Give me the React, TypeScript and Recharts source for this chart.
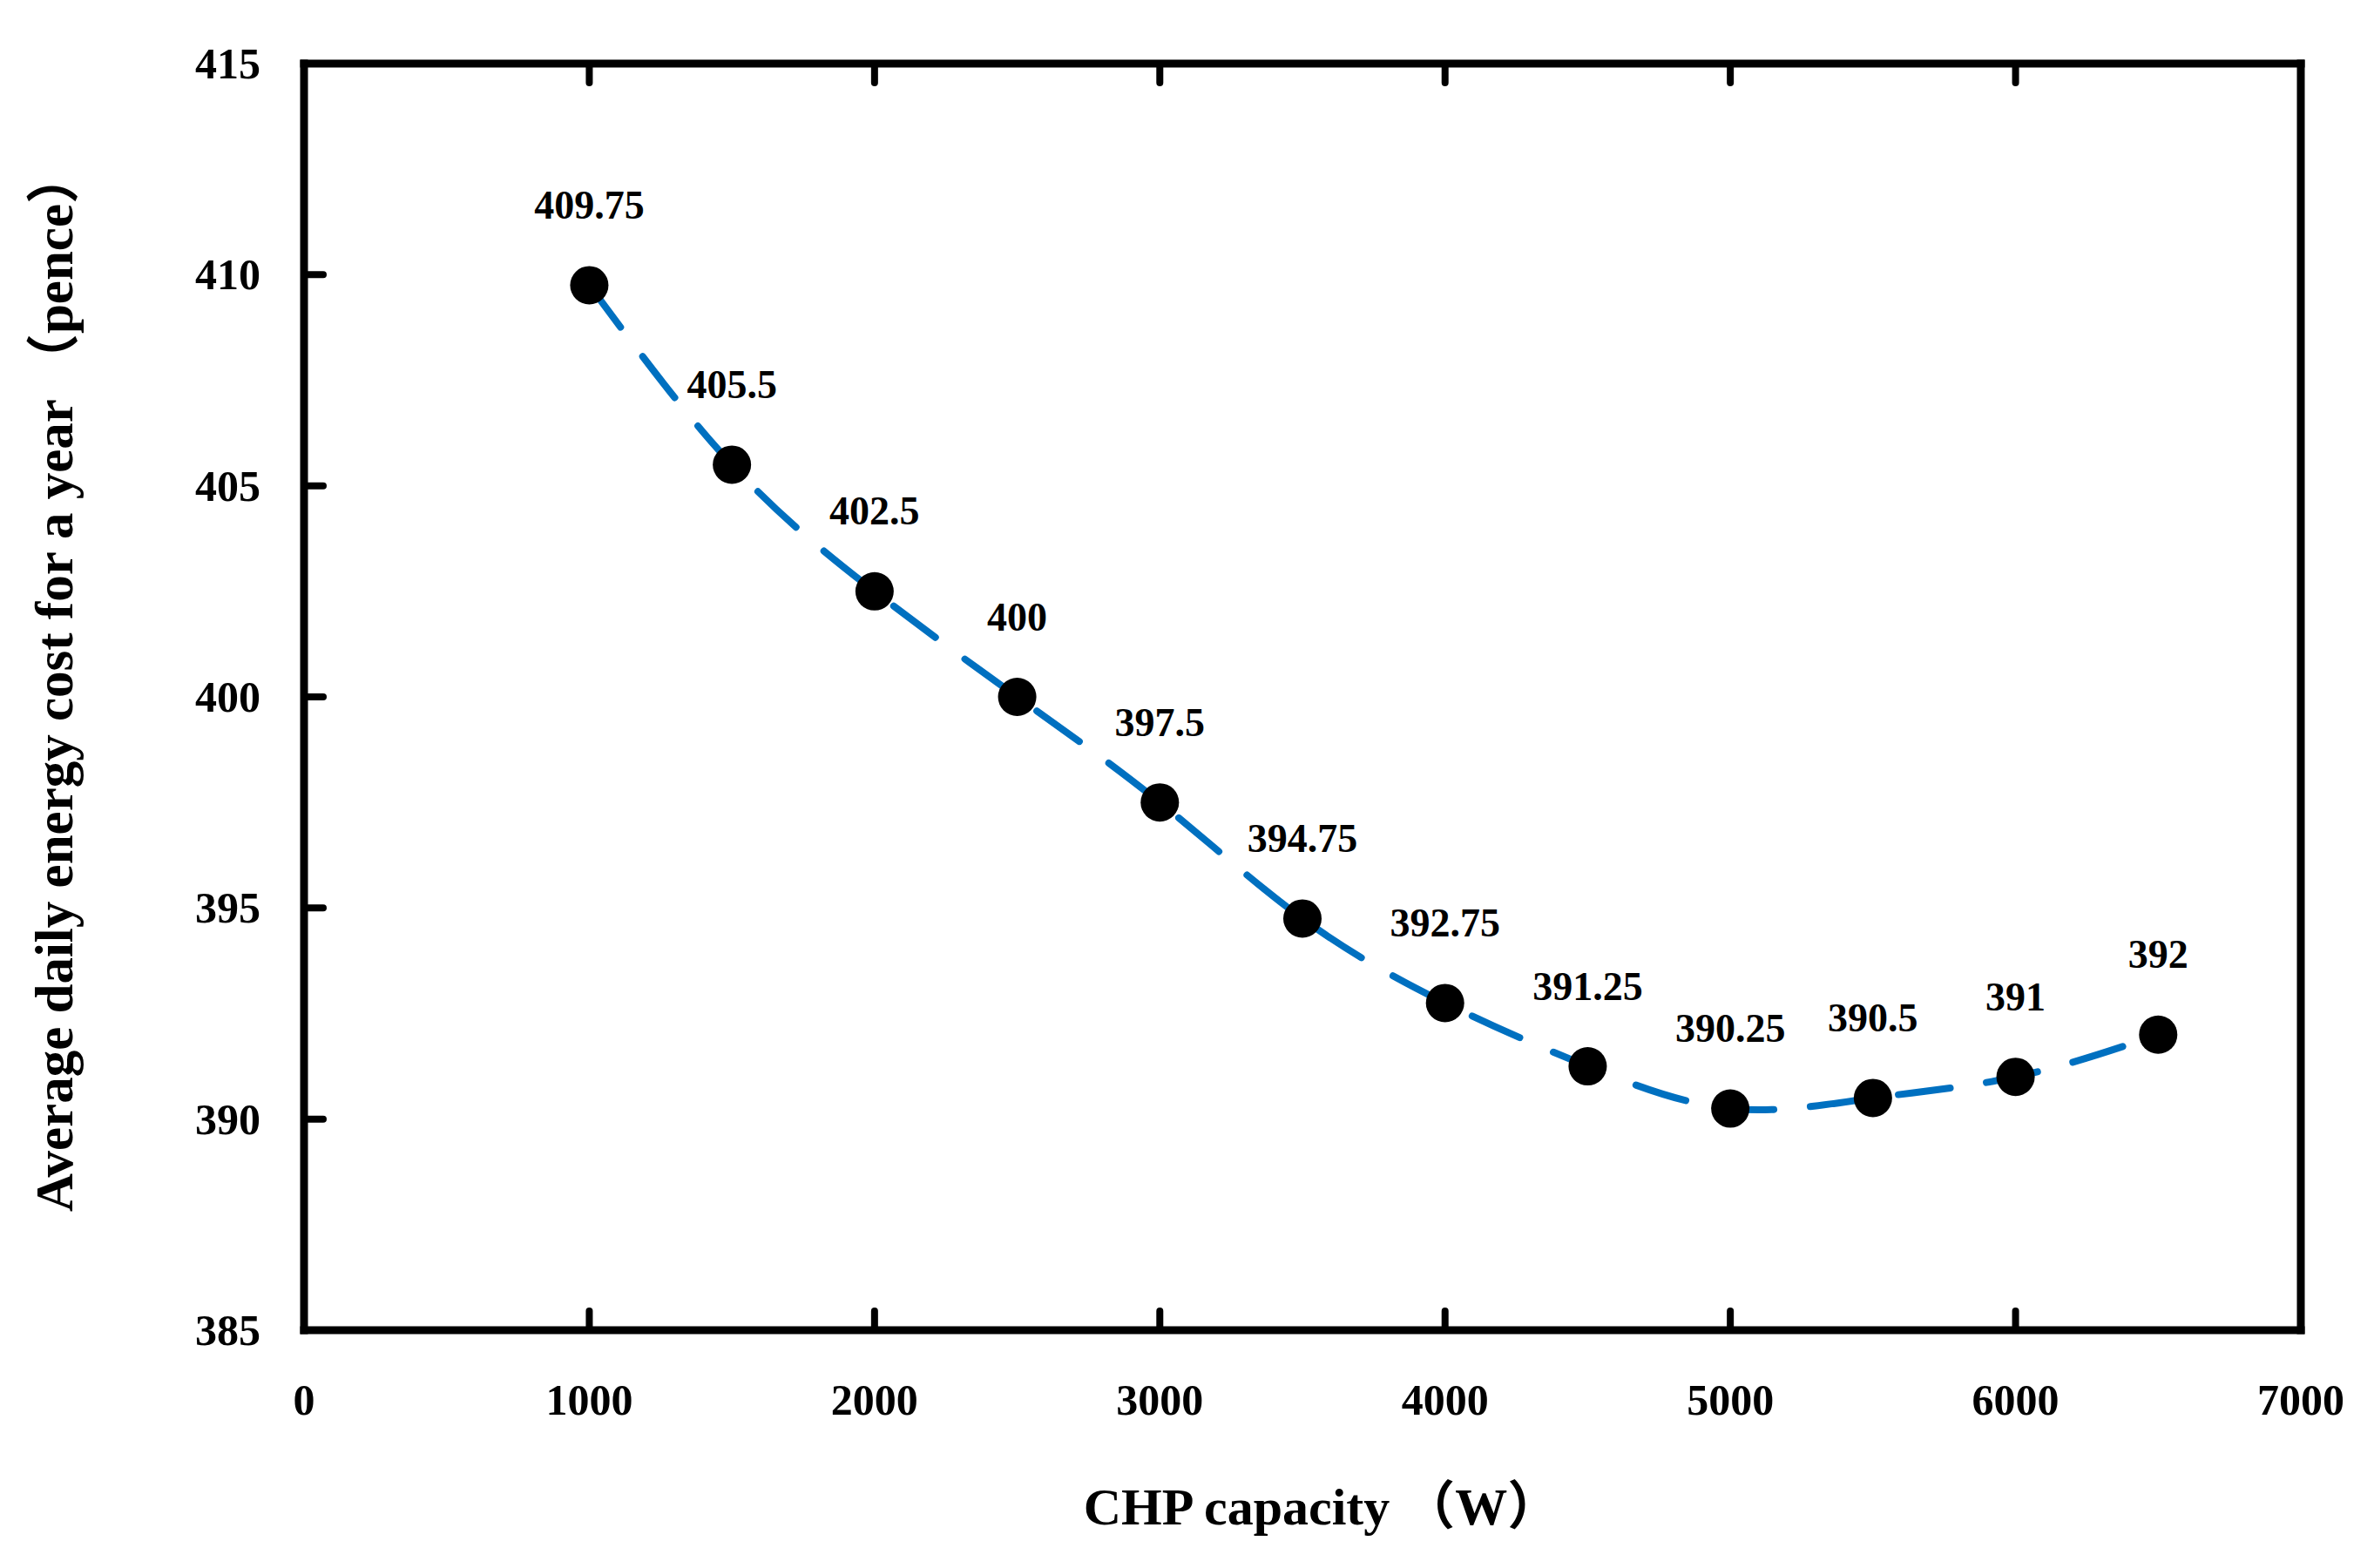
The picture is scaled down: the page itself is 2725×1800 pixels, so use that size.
import { LineChart, Line, XAxis, YAxis, LabelList, Label } from 'recharts'

const capacities = [1000, 1500, 2000, 2500, 3000, 3500, 4000, 4500, 5000, 5500, 6000, 6500]
const dailyCost = [409.75, 405.5, 402.5, 400, 397.5, 394.75, 392.75, 391.25, 390.25, 390.5, 391, 392]
const xTicks = [0, 1000, 2000, 3000, 4000, 5000, 6000, 7000]
const yTicks = [385, 390, 395, 400, 405, 410, 415]

const data = capacities.map((c, i) => ({ capacity: c, cost: dailyCost[i] }))

const FONT = "'Times New Roman', 'Liberation Serif', 'Noto Sans CJK SC', serif"
const TICK_LEN = 22
const AXIS_W = 9

const BottomTick = ({ x, y, payload }: any) => (
  <g>
    <line x1={x} y1={y} x2={x} y2={y - TICK_LEN} stroke='#000' strokeWidth={8} strokeLinecap='round' />
    <text x={x} y={y + 80} textAnchor='middle' dominantBaseline='central'
      fontFamily={FONT} fontWeight='bold' fontSize={50} fill='#000'>
      {payload.value}
    </text>
  </g>
)

const TopTick = ({ x, y }: any) => (
  <line x1={x} y1={y} x2={x} y2={y + TICK_LEN} stroke='#000' strokeWidth={8} strokeLinecap='round' />
)

const LeftTick = ({ x, y, payload }: any) => (
  <g>
    <line x1={x} y1={y} x2={x + TICK_LEN} y2={y} stroke='#000' strokeWidth={8} strokeLinecap='round' />
    <text x={x - 50} y={y} textAnchor='end' dominantBaseline='central'
      fontFamily={FONT} fontWeight='bold' fontSize={50} fill='#000'>
      {payload.value}
    </text>
  </g>
)

const RightTick = ({ x, y }: any) => (
  <line x1={x} y1={y} x2={x - TICK_LEN} y2={y} stroke='#000' strokeWidth={8} strokeLinecap='round' />
)

const ValueLabel = ({ x, y, value }: any) => (
  <text x={x} y={y - 92} textAnchor='middle' dominantBaseline='central'
    fontFamily={FONT} fontWeight='bold' fontSize={46} fill='#000'>
    {value}
  </text>
)

const XTitle = ({ viewBox }: any) => (
  <text x={viewBox.x + viewBox.width / 2 + 22} y={viewBox.y + 203} textAnchor='middle' dominantBaseline='central'
    fontFamily={FONT} fontWeight='bold' fontSize={60} fill='#000'>
    CHP capacity （W）
  </text>
)

const YTitle = ({ viewBox }: any) => {
  const cy = viewBox.y + viewBox.height / 2 - 18
  return (
    <text x={62} y={cy} transform={`rotate(-90, 62, ${cy})`} textAnchor='middle' dominantBaseline='central'
      fontFamily={FONT} fontWeight='bold' fontSize={61} fill='#000'>
      Average daily energy cost for a year （pence）
    </text>
  )
}

const axisLine = { stroke: '#000', strokeWidth: AXIS_W, strokeLinecap: 'square' as const }

export default function App() {
  return (
    <div style={{ position: 'absolute', left: 0, top: 0, width: 2725, height: 1800, background: '#fff' }}>
      <LineChart width={2725} height={1800} data={data}
        margin={{ top: 72, right: 83, bottom: 272, left: 348 }}>
        <XAxis xAxisId='bottom' dataKey='capacity' type='number' domain={[0, 7000]} ticks={xTicks}
          height={1} tickSize={0} tickMargin={0} tickLine={false} axisLine={axisLine}
          tick={BottomTick} interval={0}>
          <Label content={XTitle} />
        </XAxis>
        <XAxis xAxisId='top' orientation='top' dataKey='capacity' type='number' domain={[0, 7000]} ticks={xTicks}
          height={1} tickSize={0} tickMargin={0} tickLine={false} axisLine={axisLine}
          tick={TopTick} interval={0} />
        <YAxis yAxisId='left' type='number' domain={[385, 415]} ticks={yTicks}
          width={1} tickSize={0} tickMargin={0} tickLine={false} axisLine={axisLine}
          tick={LeftTick} interval={0}>
          <Label content={YTitle} />
        </YAxis>
        <YAxis yAxisId='right' orientation='right' type='number' domain={[385, 415]} ticks={yTicks}
          width={1} tickSize={0} tickMargin={0} tickLine={false} axisLine={axisLine}
          tick={RightTick} interval={0} />
        <Line xAxisId='bottom' yAxisId='left' type='natural' dataKey='cost'
          stroke='#0070C0' strokeWidth={8} strokeDasharray='60 42' strokeLinecap='round'
          dot={{ r: 22, fill: '#000', stroke: 'none' }} activeDot={false}
          isAnimationActive={false}>
          <LabelList dataKey='cost' content={ValueLabel} />
        </Line>
      </LineChart>
    </div>
  )
}
